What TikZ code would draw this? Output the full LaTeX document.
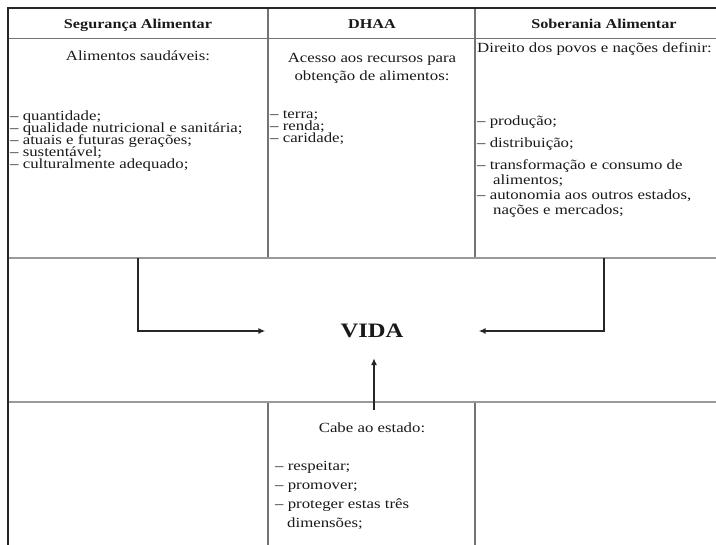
\documentclass[tikz,border=0pt]{standalone}
\usepackage{fontspec}
\setmainfont{Liberation Serif}[FakeStretch=1.2]
\usetikzlibrary{arrows.meta}
\newcommand\apertado{\lineskiplimit=-20pt\relax}

\begin{document}
\begin{tikzpicture}[x=1pt, y=-1pt,
    every node/.style={inner sep=0pt, text=black!90},
    borda/.style={line width=2.4pt, draw=black!85},
    grade/.style={line width=1.1pt, draw=black!55},
    linha/.style={line width=1.6pt, draw=black!40},
    seta/.style={line width=1.5pt, draw=black!85, -{Latex[length=7pt, width=6pt]}},
    cabec/.style={font=\fontsize{13.5}{15}\selectfont\bfseries, anchor=base},
    titulo/.style={font=\fontsize{14}{18}\selectfont, anchor=base, align=center},
    lista/.style={font=\fontsize{14}{12.2}\selectfont\apertado, anchor=base west, align=left},
    ]
  \clip (0,0) rectangle (716,545);

  % quadro
  \draw[grade] (8,38.5) -- (740,38.5);
  \draw[grade] (268,8) -- (268,258) (475,8) -- (475,258);
  \draw[grade] (268,402) -- (268,560) (475,402) -- (475,560);
  \draw[linha] (8,258) -- (740,258) (8,402) -- (740,402);
  \draw[borda] (8,560) -- (8,8) -- (740,8);

  \node[cabec] (seg) at (138,29) {Segurança Alimentar};
  \node[cabec] (dhaa) at (372,29) {DHAA};
  \node[cabec] (sob) at (604,29) {Soberania Alimentar};

  % listas: o ponto de base e a ultima linha
  \node[titulo] (segtit) at (138,61) {Alimentos saudáveis:};
  \node[lista] (segitens) at (10,169) {– quantidade;\\– qualidade nutricional e sanitária;\\– atuais e futuras gerações;\\– sustentável;\\– culturalmente adequado;};

  \node[titulo] (dhaatit) at (372,81) {Acesso aos recursos para\\obtenção de alimentos:};
  \node[lista] (dhaaitens) at (270,143) {– terra;\\– renda;\\– caridade;};

  \node[lista] (sobtit) at (477,53) {Direito dos povos e nações definir:};
  \node[lista, font=\fontsize{14}{15}\selectfont\apertado] (sobitens) at (477,215) {– produção;\\[7pt]– distribuição;\\[7pt]– transformação e consumo de\\\hspace*{16pt}alimentos;\\– autonomia aos outros estados,\\\hspace*{16pt}nações e mercados;};

  \node[font=\fontsize{20.5}{24}\selectfont\bfseries, inner xsep=75pt, inner ysep=20pt] (vida) at (372,331) {VIDA};

  \node[titulo] (estadotit) at (372,433) {Cabe ao estado:};
  \node[lista, font=\fontsize{14}{19}\selectfont] (estadoitens) at (275,528) {– respeitar;\\– promover;\\– proteger estas três\\\hspace*{12pt}dimensões;};

  \coordinate (segbase) at (138,258);
  \coordinate (sobbase) at (604,258);
  \coordinate (estadotopo) at (374,410);
  \draw[seta] (segbase) |- (vida.west);
  \draw[seta] (sobbase) |- (vida.east);
  \draw[seta] (estadotopo) -- (vida.south -| estadotopo);
\end{tikzpicture}
\end{document}
